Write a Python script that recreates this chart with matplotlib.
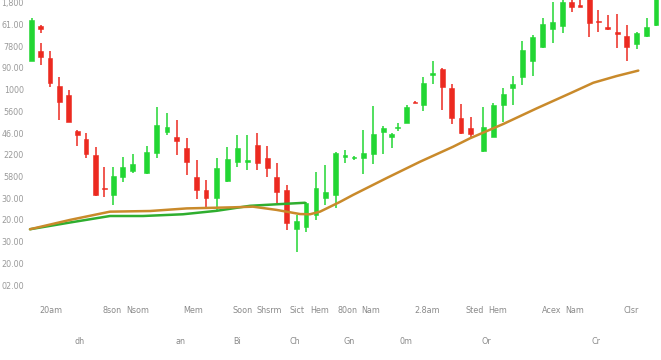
import numpy as np
import matplotlib
matplotlib.use('Agg')
import matplotlib.pyplot as plt

# ---------------------------------------------------------------------------
# Candle data (x = session position, prices in chart units)
# ---------------------------------------------------------------------------
x_pos = [31.7, 40.5, 40.5, 50, 59.3, 68.7, 77.3, 86, 95.5, 104.3,
         113.3, 122.7, 132.7, 146.7, 156.7, 167, 176.7, 186.7, 196.7, 206,
         216.7, 227.3, 237.3, 247.3, 257.3, 267.3, 276.7, 286.7, 296.7, 306,
         316, 325.3, 335.7, 345, 354, 363.3, 373.3, 383.3, 391.7, 397.7,
         406.7, 415, 423.3, 432.7, 442.3, 451.7, 461, 470.7, 483.3, 493.3,
         503.3, 512.7, 522.3, 532.7, 542.7, 552.7, 562.7, 571.7, 580, 589.3,
         598.3, 607.7, 617.3, 626.7, 636.7, 646.7, 656]
opens = [1032, 1195, 1080, 1046, 917, 876, 711, 673, 599, 448,
         415, 496, 527, 515, 607, 706, 683, 630, 496, 438,
         400, 481, 568, 568, 645, 584, 496, 438, 257, 269,
         323, 400, 415, 588, 584, 584, 604, 704, 683, 722,
         748, 844, 829, 966, 995, 909, 771, 722, 619, 683,
         829, 906, 957, 1032, 1095, 1180, 1195, 1306, 1286, 1340,
         1218, 1188, 1167, 1147, 1109, 1147, 1198]
highs = [1230, 1200, 1115, 1078, 958, 899, 716, 700, 637, 545,
         545, 590, 604, 641, 820, 793, 760, 679, 576, 484,
         587, 637, 691, 691, 699, 641, 564, 461, 323, 383,
         522, 553, 612, 622, 596, 714, 825, 733, 699, 748,
         829, 846, 960, 1034, 998, 926, 834, 773, 822, 839,
         908, 963, 1126, 1152, 1229, 1303, 1340, 1340, 1320, 1345,
         1267, 1244, 1249, 1198, 1167, 1229, 1345]
lows = [1032, 1161, 1014, 912, 760, 751, 642, 585, 410, 404,
        369, 476, 516, 510, 585, 691, 599, 507, 395, 358,
        346, 476, 542, 530, 530, 499, 377, 253, 153, 246,
        300, 369, 355, 561, 576, 512, 558, 604, 630, 711,
        745, 839, 803, 925, 806, 742, 698, 676, 614, 681,
        753, 829, 922, 963, 1091, 1114, 1160, 1259, 1282, 1144,
        1167, 1175, 1091, 1034, 1086, 1141, 1194]
closes = [1221, 1178, 1052, 931, 843, 751, 691, 604, 415, 441,
          502, 545, 558, 614, 737, 730, 665, 568, 438, 400,
          538, 579, 630, 576, 561, 538, 430, 284, 296, 379,
          446, 430, 607, 599, 591, 607, 696, 722, 696, 730,
          819, 840, 932, 978, 911, 768, 702, 696, 730, 829,
          880, 926, 1083, 1141, 1203, 1213, 1306, 1280, 1283, 1209,
          1211, 1180, 1157, 1098, 1160, 1190, 1340]

# moving averages
ma_slow_x = [30, 70, 110, 150, 186.7, 233, 253, 276.7, 300, 310, 320, 340,
             353, 386.7, 420, 453, 470, 503.3, 536.7, 570, 593.3, 616.7, 638.3]
ma_slow_y = [257, 300, 338, 341, 353, 358, 361, 346, 327, 326, 338, 383,
             415, 493, 568, 637, 676, 742, 814, 883, 932, 963, 988]
ma_fast_x = [30, 70, 110, 143, 183, 216.7, 250, 276.7, 305]
ma_fast_y = [257, 288, 318, 318, 326, 342, 365, 372, 379]

# axis labels
y_ticks = list(range(0, 1400, 100))
y_labels = ["02.00", "20.00", "30.00", "20.00", "30.00", "5800", "2200",
            "46.00", "5600", "1000", "90.00", "7800", "61.00", "1,800"]
x_tick_pos = [51, 112, 138, 193, 243, 269, 297, 320, 347, 371, 427,
              475, 498, 552, 575, 631]
x_tick_labels = ["20am", "8son", "Nsom", "Mem", "Soon", "Shsrm", "Sict",
                 "Hem", "80on", "Nam", "2.8am", "Sted", "Hem", "Acex",
                 "Nam", "Clsr"]
x_sub_pos = [80, 181, 237, 295, 349, 406, 486, 596]
x_sub_labels = ["dh", "an", "Bi", "Ch", "Gn", "0m", "Or", "Cr"]

UP = '#22d633'
DOWN = '#ec2a20'

fig = plt.figure(figsize=(6.61, 3.6), dpi=100)
ax = fig.add_axes([28 / 661, 65 / 360, 633 / 661, 295 / 360])

o = np.array(opens, float)
h = np.array(highs, float)
l = np.array(lows, float)
c = np.array(closes, float)
colors = [UP if cc >= oo else DOWN for oo, cc in zip(o, c)]
# a couple of flat-bodied red candles
colors[5] = DOWN

ax.vlines(x_pos, l, h, colors=colors, linewidth=1.1, zorder=2)
body_bottom = np.minimum(o, c)
body_h = np.maximum(np.abs(c - o), 5)
ax.bar(x_pos, body_h, bottom=body_bottom, width=4.8, color=colors,
       edgecolor=colors, linewidth=0.4, zorder=3)

ax.plot(ma_fast_x, ma_fast_y, color='#2fae2f', linewidth=1.8, zorder=4,
        solid_capstyle='round')
ax.plot(ma_slow_x, ma_slow_y, color='#c98a2b', linewidth=1.8, zorder=4,
        solid_capstyle='round')

ax.set_xlim(28, 661)
ax.set_ylim(-46, 1313.3)

for s in ax.spines.values():
    s.set_visible(False)

ax.set_yticks(y_ticks)
ax.set_yticklabels(y_labels, fontsize=5.8, color='#9a9a9a')
ax.tick_params(axis='y', length=0, pad=3)

ax.set_xticks(x_tick_pos)
ax.set_xticklabels(x_tick_labels, fontsize=5.8, color='#8a8a8a')
ax.set_xticks(x_sub_pos, minor=True)
ax.set_xticklabels(x_sub_labels, minor=True, fontsize=5.8, color='#8a8a8a')
ax.tick_params(axis='x', which='major', length=0, pad=8)
ax.tick_params(axis='x', which='minor', length=0, pad=30)

fig.savefig('out.png', dpi=100, facecolor='white')
